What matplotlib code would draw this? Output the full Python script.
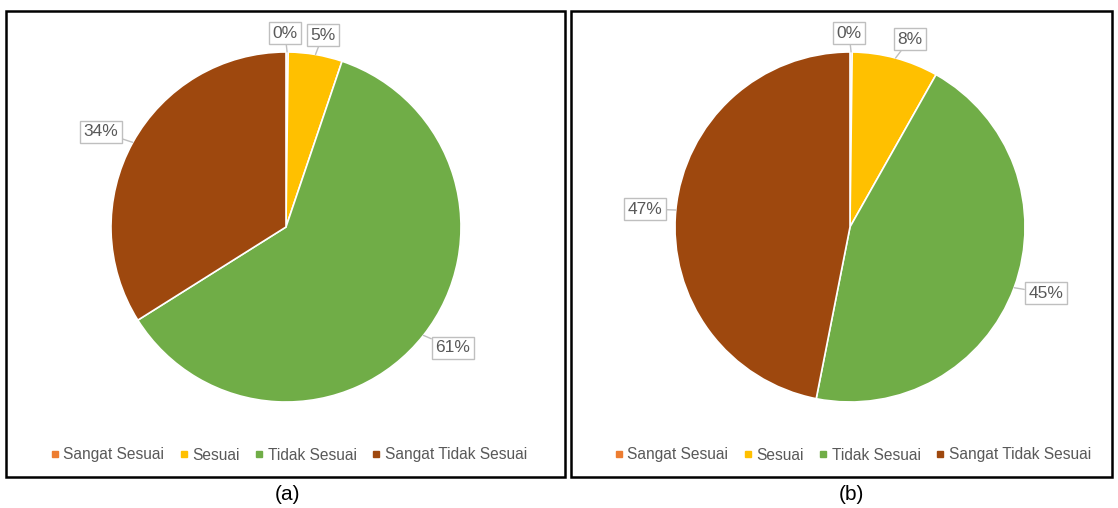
import numpy as np
import matplotlib
matplotlib.use("Agg")
import matplotlib.pyplot as plt
from matplotlib.patches import Rectangle
from matplotlib.lines import Line2D

plt.rcParams['font.family'] = ['Liberation Sans', 'DejaVu Sans']

categories = ["Sangat Sesuai", "Sesuai", "Tidak Sesuai", "Sangat Tidak Sesuai"]
values_a = [0.2, 5, 61, 34]
values_b = [0.2, 8, 45, 47]
labels_a = ["0%", "5%", "61%", "34%"]
labels_b = ["0%", "8%", "45%", "47%"]
panel_captions = ["(a)", "(b)"]

colors = ["#ED7D31", "#FFC000", "#70AD47", "#9E480E"]
TXT = "#595959"

W, H = 1118, 508
fig = plt.figure(figsize=(W / 100, H / 100), dpi=100)
ax = fig.add_axes([0, 0, 1, 1])
ax.set_xlim(0, W)
ax.set_ylim(0, H)
ax.set_aspect('equal')
ax.axis('off')


def Y(y):
    return H - y


panels = [
    dict(vals=values_a, labs=labels_a, center=(286, 227), frame=(6, 11, 565, 477),
         label_pos=[(285, 33), (323, 35), (453, 348), (101, 132)], legend_x=289,
         caption_x=287),
    dict(vals=values_b, labs=labels_b, center=(850, 227), frame=(571, 11, 1112, 477),
         label_pos=[(849, 33), (910, 39), (1046, 293), (645, 209)], legend_x=853,
         caption_x=851),
]
R = 175

for i, p in enumerate(panels):
    x0, y0, x1, y1 = p['frame']
    ax.add_patch(Rectangle((x0, Y(y1)), x1 - x0, y1 - y0, fill=False,
                           edgecolor='black', linewidth=1.8, zorder=0))
    cx, cy = p['center']
    wedges, _ = ax.pie(p['vals'], colors=colors, startangle=90, counterclock=False,
                       center=(cx, Y(cy)), radius=R, frame=True,
                       wedgeprops=dict(edgecolor='white', linewidth=1.2))
    for w, lab, (lx, ly) in zip(wedges, p['labs'], p['label_pos']):
        mid = np.deg2rad((w.theta1 + w.theta2) / 2)
        px = cx + R * np.cos(mid)
        py = Y(cy) + R * np.sin(mid)
        ax.annotate(lab, xy=(px, py), xytext=(lx, Y(ly)), ha='center', va='center',
                    fontsize=12.5, color=TXT,
                    bbox=dict(boxstyle='square,pad=0.22', fc='white', ec='#BFBFBF', lw=1),
                    arrowprops=dict(arrowstyle='-', color='#BFBFBF', lw=1,
                                    shrinkA=0, shrinkB=0),
                    zorder=5)
    handles = [Line2D([], [], marker='s', linestyle='none', markersize=5,
                      markerfacecolor=c, markeredgecolor=c) for c in colors]
    leg = ax.legend(handles, categories, loc='center',
                    bbox_to_anchor=(p['legend_x'] / W, 1 - 455 / H),
                    bbox_transform=fig.transFigure, ncol=4, frameon=False,
                    fontsize=11.2, handlelength=0.5, handletextpad=0.3,
                    columnspacing=1.0, labelcolor=TXT)
    if i == 0:
        ax.add_artist(leg)
    ax.text(p['caption_x'], Y(495), panel_captions[i], ha='center', va='center',
            fontsize=15, color='black')

ax.set_xlim(0, W)
ax.set_ylim(0, H)
fig.savefig("out.png", dpi=100)
